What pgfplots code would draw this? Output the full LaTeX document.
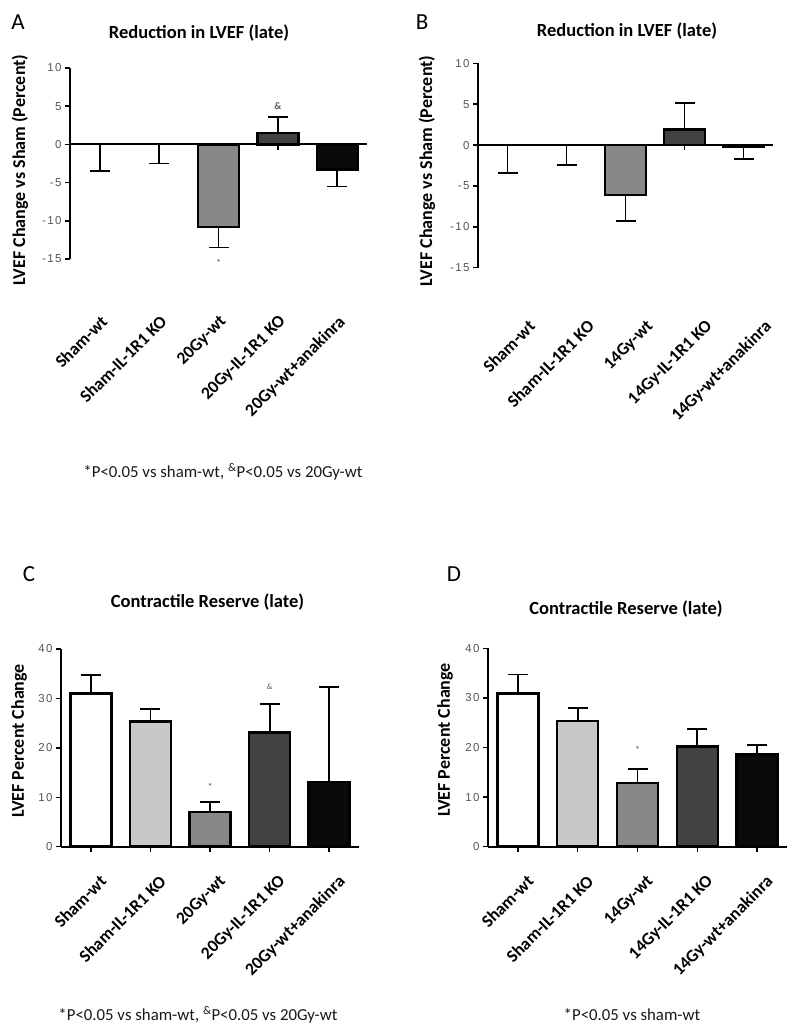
\documentclass[border=0pt]{standalone}
\usepackage{pgfplots}
\pgfplotsset{compat=1.18}
\usepackage{fontspec}
\setmainfont{Carlito}
\newfontfamily\tickf[LetterSpace=12]{Liberation Sans}
\definecolor{lg}{HTML}{C8C8C8}
\definecolor{mg}{HTML}{888888}
\definecolor{dg}{HTML}{424242}
\definecolor{bk}{HTML}{0A0A0A}
\definecolor{tk}{HTML}{555555}
\pgfplotsset{
 panel/.style={
  scale only axis, anchor=south west,
  axis lines*=left,
  xmin=-0.5, xmax=4.5,
  xtick={0,1,2,3,4},
  axis line style={line width=1.8pt, black},
  tick align=outside,
  major tick length=5pt,
  tick style={black, line width=1.5pt},
  yticklabel style={font=\tickf\fontsize{11.5}{12}\selectfont, text=tk},
  clip=false,
 },
 notick/.style={every x tick/.style={draw=none}, every major x tick/.style={draw=none}, x axis line style={draw=none}},
 errs/.style={draw=none, mark=none, forget plot, error bars/.cd, y dir=both, y explicit, error bar style={draw=black, line width=1.8pt}, error mark options={rotate=90, mark size=10pt, line width=1.8pt, draw=black}},
 errsnc/.style={draw=none, mark=none, forget plot, error bars/.cd, y dir=minus, y explicit, error bar style={draw=black, line width=1.8pt}, error mark=none},
 bb/.style={ybar, bar width=41pt, bar shift=0pt, draw=black, line width=2.5pt, forget plot},
}
\begin{document}
\begin{tikzpicture}[x=1pt,y=1pt]
\useasboundingbox (0,0) rectangle (796,1032);
% ---------- A ----------
\begin{axis}[panel, notick, at={(70pt,773pt)}, width=297pt, height=191pt,
  ymin=-15, ymax=10, ytick={-15,-10,-5,0,5,10}, yticklabels={-15,-10,-5,0,5,10},
  xticklabels={Sham-wt, Sham-IL-1R1 KO, 20Gy-wt, 20Gy-IL-1R1 KO, 20Gy-wt+anakinra},
  xticklabel style={font=\bfseries\fontsize{17.5}{18}\selectfont, inner sep=0pt, xshift=0pt, yshift=-50pt, rotate=45, anchor=north east}]
\addplot[black, line width=1.8pt, mark=none, forget plot] coordinates {(-0.5,0) (4.5,0)};
\addplot[errs] coordinates {(0,0) += (0,0) -= (0,3.5) (1,0) += (0,0) -= (0,2.5) (2,-10.8) += (0,0) -= (0,2.7) (3,1.5) += (0,2.1) -= (0,0) (4,-3.3) += (0,0) -= (0,2.2)};
\addplot[errsnc] coordinates {(3,1.5) -= (0,2.2)};
\addplot[bb, fill=mg] coordinates {(2,-10.8)};
\addplot[bb, fill=dg] coordinates {(3,1.5)};
\addplot[bb, fill=bk] coordinates {(4,-3.3)};
\node[font=\bfseries\fontsize{10}{10}\selectfont, text=tk] at (axis cs:3,5) {\&};
\node[font=\fontsize{10}{10}\selectfont, text=tk] at (axis cs:2,-15.5) {*};
\end{axis}
% ---------- B ----------
\begin{axis}[panel, notick, at={(478pt,764.3pt)}, width=295pt, height=204.4pt,
  ymin=-15, ymax=10, ytick={-15,-10,-5,0,5,10}, yticklabels={-15,-10,-5,0,5,10},
  xticklabels={Sham-wt, Sham-IL-1R1 KO, 14Gy-wt, 14Gy-IL-1R1 KO, 14Gy-wt+anakinra},
  xticklabel style={font=\bfseries\fontsize{17.5}{18}\selectfont, inner sep=0pt, xshift=20pt, yshift=-46pt, rotate=45, anchor=north east}]
\addplot[black, line width=1.8pt, mark=none, forget plot] coordinates {(-0.5,0) (4.5,0)};
\addplot[errs] coordinates {(0,0) += (0,0) -= (0,3.4) (1,0) += (0,0) -= (0,2.45) (2,-6.1) += (0,0) -= (0,3.15) (3,1.9) += (0,3.2) -= (0,0) (4,-0.2) += (0,0) -= (0,1.55)};
\addplot[errsnc] coordinates {(3,1.9) -= (0,2.5)};
\addplot[bb, fill=mg] coordinates {(2,-6.1)};
\addplot[bb, fill=dg] coordinates {(3,1.9)};
\addplot[bb, fill=bk] coordinates {(4,-0.2)};
\end{axis}
% ---------- C ----------
\begin{axis}[panel, at={(61pt,185.3pt)}, width=298pt, height=197.7pt,
  ymin=0, ymax=40, ytick={0,10,20,30,40}, yticklabels={0,10,20,30,40},
  xticklabels={Sham-wt, Sham-IL-1R1 KO, 20Gy-wt, 20Gy-IL-1R1 KO, 20Gy-wt+anakinra},
  xticklabel style={font=\bfseries\fontsize{17.5}{18}\selectfont, inner sep=0pt, xshift=8pt, yshift=-22pt, rotate=45, anchor=north east}]
\addplot[errs] coordinates {(0,31.0) += (0,3.8) -= (0,0) (1,25.3) += (0,2.6) -= (0,0) (2,7.0) += (0,2.1) -= (0,0) (3,23.1) += (0,5.8) -= (0,0) (4,13.1) += (0,19.2) -= (0,0)};
\addplot[bb, fill=white] coordinates {(0,31.0)};
\addplot[bb, fill=lg] coordinates {(1,25.3)};
\addplot[bb, fill=mg] coordinates {(2,7.0)};
\addplot[bb, fill=dg] coordinates {(3,23.1)};
\addplot[bb, fill=bk] coordinates {(4,13.1)};
\node[font=\fontsize{10}{10}\selectfont, text=tk] at (axis cs:2,12) {*};
\node[font=\fontsize{8}{8}\selectfont, text=tk] at (axis cs:3,32.4) {\&};
\end{axis}
% ---------- D ----------
\begin{axis}[panel, at={(488pt,185.3pt)}, width=299pt, height=198.4pt,
  ymin=0, ymax=40, ytick={0,10,20,30,40}, yticklabels={0,10,20,30,40},
  xticklabels={Sham-wt, Sham-IL-1R1 KO, 14Gy-wt, 14Gy-IL-1R1 KO, 14Gy-wt+anakinra},
  xticklabel style={font=\bfseries\fontsize{17.5}{18}\selectfont, inner sep=0pt, xshift=8pt, yshift=-22pt, rotate=45, anchor=north east}]
\addplot[errs] coordinates {(0,30.9) += (0,3.8) -= (0,0) (1,25.3) += (0,2.6) -= (0,0) (2,12.8) += (0,2.9) -= (0,0) (3,20.2) += (0,3.5) -= (0,0) (4,18.6) += (0,1.9) -= (0,0)};
\addplot[bb, fill=white] coordinates {(0,30.9)};
\addplot[bb, fill=lg] coordinates {(1,25.3)};
\addplot[bb, fill=mg] coordinates {(2,12.8)};
\addplot[bb, fill=dg] coordinates {(3,20.2)};
\addplot[bb, fill=bk] coordinates {(4,18.6)};
\node[font=\fontsize{10}{10}\selectfont, text=tk] at (axis cs:2,19.6) {*};
\end{axis}
% ---------- texts ----------
\node[font=\fontsize{23}{26}\selectfont] at (18,1010) {A};
\node[font=\fontsize{23}{26}\selectfont] at (422,1010) {B};
\node[font=\fontsize{23}{26}\selectfont] at (29,458) {C};
\node[font=\fontsize{23}{26}\selectfont] at (454,458) {D};
\node[font=\bfseries\fontsize{18.5}{20}\selectfont] at (199,999) {Reduction in LVEF (late)};
\node[font=\bfseries\fontsize{18.5}{20}\selectfont] at (627,1001) {Reduction in LVEF (late)};
\node[font=\bfseries\fontsize{18.5}{20}\selectfont] at (207.5,430) {Contractile Reserve (late)};
\node[font=\bfseries\fontsize{18.5}{20}\selectfont] at (626,423) {Contractile Reserve (late)};
\node[rotate=90, font=\bfseries\fontsize{18}{20}\selectfont] at (20,862) {LVEF Change vs Sham (Percent)};
\node[rotate=90, font=\bfseries\fontsize{18}{20}\selectfont] at (427,861) {LVEF Change vs Sham (Percent)};
\node[rotate=90, font=\bfseries\fontsize{18}{20}\selectfont] at (19,291) {LVEF Percent Change};
\node[rotate=90, font=\bfseries\fontsize{18}{20}\selectfont] at (445,292) {LVEF Percent Change};
\node[font=\fontsize{16.8}{18}\selectfont, text=black!90] at (223,560) {*P<0.05 vs sham-wt, \textsuperscript{\&}P<0.05 vs 20Gy-wt};
\node[font=\fontsize{16.8}{18}\selectfont, text=black!90] at (198,17) {*P<0.05 vs sham-wt, \textsuperscript{\&}P<0.05 vs 20Gy-wt};
\node[font=\fontsize{16.8}{18}\selectfont, text=black!90] at (632,17) {*P<0.05 vs sham-wt};
\end{tikzpicture}
\end{document}
